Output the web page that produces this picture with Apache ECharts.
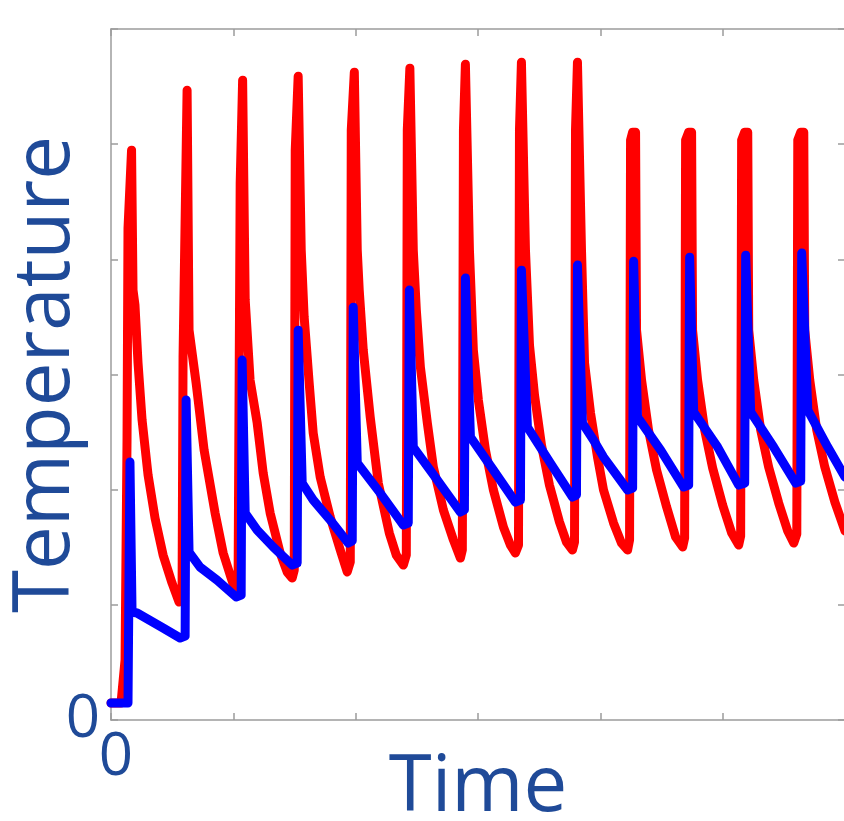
<!DOCTYPE html>
<html>
<head>
<meta charset="utf-8">
<script src="https://cdn.jsdelivr.net/npm/echarts@6/dist/echarts.min.js"></script>
<style>
  html, body { margin: 0; padding: 0; background: #ffffff; }
  #chart { width: 844px; height: 821px; }
</style>
</head>
<body>
<div id="chart"></div>
<script>
// Axis ranges and tick labels
const timeRange = [0, 6];
const tempRange = [0, 6];
const tickLabels = { 0: '0' };

// Outer (red) temperature trace: [time, temperature]
const outerTemp = [
  [0, 0.148], [0.082, 0.148], [0.115, 0.521], [0.131, 2.431], [0.139, 4.271], [0.168, 4.948],
  [0.180, 3.733], [0.196, 3.602], [0.221, 3.099], [0.254, 2.604], [0.303, 2.127], [0.360, 1.753],
  [0.426, 1.432], [0.499, 1.189], [0.556, 1.024],
  [0.581, 1.111], [0.589, 3.151], [0.622, 5.469], [0.638, 3.385], [0.696, 2.925], [0.761, 2.344],
  [0.851, 1.797], [0.917, 1.450], [0.982, 1.233], [1.015, 1.128],
  [1.039, 1.215], [1.056, 4.661], [1.076, 5.556], [1.097, 3.646], [1.137, 2.951], [1.195, 2.578],
  [1.244, 2.144], [1.301, 1.797], [1.383, 1.450], [1.440, 1.285], [1.481, 1.233],
  [1.498, 1.302], [1.506, 4.948], [1.530, 5.590], [1.555, 4.080], [1.579, 3.498], [1.620, 2.925],
  [1.653, 2.491], [1.710, 2.109], [1.792, 1.762], [1.874, 1.476], [1.931, 1.285],
  [1.956, 1.372], [1.964, 5.122], [1.989, 5.625], [2.013, 4.080], [2.029, 3.733], [2.062, 3.212],
  [2.119, 2.630], [2.185, 2.057], [2.275, 1.623], [2.332, 1.432], [2.390, 1.345],
  [2.414, 1.432], [2.422, 5.122], [2.443, 5.660], [2.471, 4.080], [2.496, 3.559], [2.529, 3.064],
  [2.586, 2.578], [2.635, 2.196], [2.717, 1.823], [2.799, 1.563], [2.856, 1.406],
  [2.872, 1.476], [2.881, 5.122], [2.897, 5.694], [2.930, 4.080], [2.962, 3.212], [3.003, 2.778],
  [3.061, 2.344], [3.126, 1.997], [3.208, 1.675], [3.265, 1.519], [3.306, 1.450],
  [3.331, 1.519], [3.339, 5.122], [3.355, 5.712], [3.388, 4.080], [3.421, 3.255], [3.462, 2.821],
  [3.519, 2.387], [3.584, 2.040], [3.666, 1.719], [3.723, 1.545], [3.772, 1.476],
  [3.789, 1.545], [3.797, 5.122], [3.813, 5.712], [3.846, 4.080], [3.871, 3.099], [3.920, 2.665],
  [3.977, 2.283], [4.026, 1.997], [4.108, 1.710], [4.173, 1.536], [4.223, 1.476],
  [4.239, 1.563], [4.247, 5.035], [4.264, 5.104], [4.288, 5.104], [4.296, 3.385], [4.337, 2.951],
  [4.394, 2.517], [4.460, 2.170], [4.542, 1.849], [4.615, 1.589], [4.673, 1.502],
  [4.689, 1.580], [4.697, 5.035], [4.722, 5.104], [4.746, 5.104], [4.754, 3.385], [4.795, 2.951],
  [4.853, 2.517], [4.918, 2.188], [5.000, 1.866], [5.074, 1.623], [5.131, 1.519],
  [5.147, 1.597], [5.155, 5.035], [5.180, 5.104], [5.205, 5.104], [5.213, 3.385], [5.254, 2.951],
  [5.311, 2.517], [5.376, 2.196], [5.458, 1.884], [5.532, 1.641], [5.581, 1.536],
  [5.606, 1.615], [5.614, 5.035], [5.638, 5.104], [5.663, 5.104], [5.671, 3.385], [5.712, 2.951],
  [5.769, 2.517], [5.835, 2.196], [5.917, 1.892], [6.0, 1.641]
];

// Inner (blue) temperature trace: [time, temperature]
const innerTemp = [
  [0, 0.148], [0.139, 0.148],
  [0.155, 2.240], [0.172, 0.938], [0.213, 0.929], [0.426, 0.799], [0.565, 0.712],
  [0.606, 0.729], [0.614, 2.778], [0.638, 1.458], [0.728, 1.328], [0.867, 1.215], [1.023, 1.068],
  [1.064, 1.085], [1.072, 3.125], [1.097, 1.797], [1.195, 1.649], [1.326, 1.502], [1.481, 1.345],
  [1.522, 1.363], [1.530, 3.385], [1.563, 2.057], [1.653, 1.910], [1.792, 1.736], [1.939, 1.536],
  [1.972, 1.554], [1.980, 3.585], [2.013, 2.231], [2.201, 1.970], [2.390, 1.693],
  [2.430, 1.710], [2.439, 3.733], [2.471, 2.370], [2.668, 2.083], [2.856, 1.806],
  [2.889, 1.823], [2.897, 3.837], [2.938, 2.457], [3.126, 2.170], [3.306, 1.892],
  [3.347, 1.910], [3.355, 3.906], [3.404, 2.543], [3.592, 2.231], [3.772, 1.936],
  [3.805, 1.953], [3.813, 3.950], [3.854, 2.578], [3.944, 2.431], [4.026, 2.283], [4.223, 1.997],
  [4.264, 2.014], [4.272, 3.984], [4.304, 2.630], [4.493, 2.344], [4.681, 2.023],
  [4.722, 2.040], [4.730, 4.019], [4.763, 2.674], [4.959, 2.370], [5.131, 2.040],
  [5.180, 2.057], [5.188, 4.036], [5.229, 2.674], [5.417, 2.370], [5.597, 2.057],
  [5.638, 2.075], [5.646, 4.054], [5.696, 2.691], [5.859, 2.370], [6.0, 2.109]
];

const textColor = '#1f4a98';
const frameColor = '#9c9c9c';
const fontFamily = '"Open Sans", "Noto Sans", sans-serif';

function frameLine() {
  return { show: true, onZero: false, lineStyle: { color: frameColor, width: 1.5 } };
}
function frameTick() {
  return { show: true, inside: true, length: 7, lineStyle: { color: frameColor, width: 1.5 } };
}

function tickText(v) {
  return tickLabels[v] !== undefined ? tickLabels[v] : '';
}

const chart = echarts.init(document.getElementById('chart'), null, { renderer: 'canvas' });

chart.setOption({
  animation: false,
  backgroundColor: '#ffffff',
  grid: { left: 111, top: 29, width: 734, height: 691, containLabel: false, outerBoundsMode: 'none' },
  xAxis: [
    {
      type: 'value', position: 'bottom', min: timeRange[0], max: timeRange[1], interval: 1,
      name: 'Time', nameLocation: 'middle', nameGap: 30, nameMoveOverlap: false,
      nameTextStyle: { color: textColor, fontSize: 78, fontFamily: fontFamily },
      axisLine: frameLine(), axisTick: frameTick(), splitLine: { show: false },
      axisLabel: {
        color: textColor, fontSize: 60, fontFamily: fontFamily, margin: 8,
        padding: [0, 0, 0, 10], formatter: tickText
      }
    },
    {
      type: 'value', position: 'top', min: timeRange[0], max: timeRange[1], interval: 1,
      axisLine: frameLine(), axisTick: frameTick(), splitLine: { show: false },
      axisLabel: { show: false }
    }
  ],
  yAxis: [
    {
      type: 'value', position: 'left', min: tempRange[0], max: tempRange[1], interval: 1,
      name: 'Temperature', nameLocation: 'middle', nameGap: 25, nameRotate: 90, nameMoveOverlap: false,
      nameTextStyle: { color: textColor, fontSize: 78, fontFamily: fontFamily },
      axisLine: frameLine(), axisTick: frameTick(), splitLine: { show: false },
      axisLabel: {
        color: textColor, fontSize: 60, fontFamily: fontFamily, margin: 11,
        formatter: tickText
      }
    },
    {
      type: 'value', position: 'right', min: tempRange[0], max: tempRange[1], interval: 1,
      axisLine: frameLine(), axisTick: frameTick(), splitLine: { show: false },
      axisLabel: { show: false }
    }
  ],
  series: [
    {
      name: 'Outer', type: 'line', data: outerTemp, xAxisIndex: 1, yAxisIndex: 1,
      showSymbol: false, symbol: 'none',
      lineStyle: { color: '#ff0000', width: 9, cap: 'round', join: 'round' }, z: 2
    },
    {
      name: 'Inner', type: 'line', data: innerTemp, xAxisIndex: 0, yAxisIndex: 0,
      showSymbol: false, symbol: 'none',
      lineStyle: { color: '#0000ff', width: 9, cap: 'round', join: 'round' }, z: 3
    }
  ]
});
</script>
</body>
</html>
